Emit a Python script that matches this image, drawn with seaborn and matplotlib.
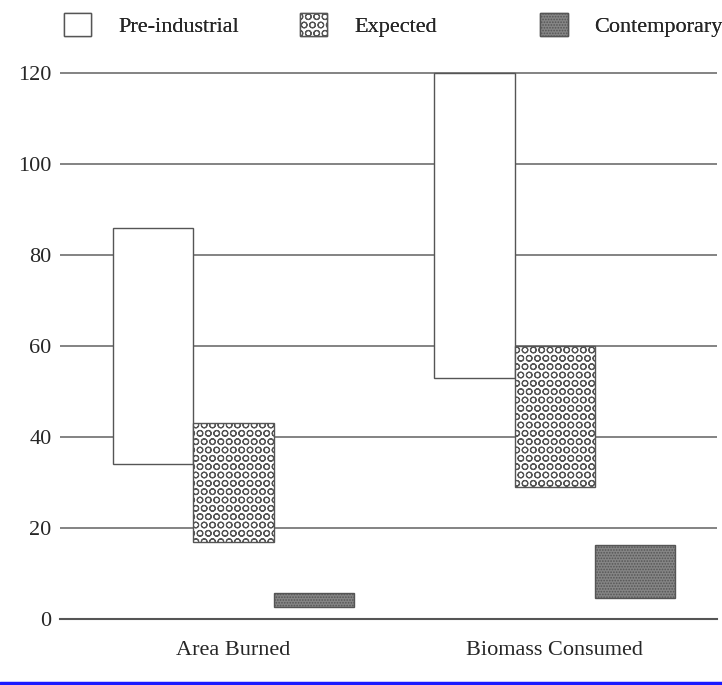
import numpy as np
import pandas as pd
import matplotlib
matplotlib.use("Agg")
import matplotlib.pyplot as plt
import seaborn as sns
from matplotlib.patches import Patch
from matplotlib.lines import Line2D

metrics = ["Area Burned", "Biomass Consumed"]
periods = ["Pre-industrial", "Expected", "Contemporary"]
# low / high end of each range bar
pre_low = [34, 53]
pre_high = [86, 120]
exp_low = [17, 29]
exp_high = [43, 60]
con_low = [2.7, 4.5]
con_high = [5.8, 16.3]

rows = []
for p, lo, hi in zip(periods, [pre_low, exp_low, con_low], [pre_high, exp_high, con_high]):
    for m, a, b in zip(metrics, lo, hi):
        rows.append({"metric": m, "period": p, "low": a, "span": b - a})
df = pd.DataFrame(rows)

sns.set_style("white")
plt.rcParams["font.family"] = ["Liberation Serif", "DejaVu Serif"]
plt.rcParams["hatch.linewidth"] = 0.8

fig = plt.figure(figsize=(7.22, 6.85), dpi=100)
ax = fig.add_axes([0.083, 0.0964, 0.910, 0.8004])

face = {"Pre-industrial": "white", "Expected": "white", "Contemporary": "#858585"}
sns.barplot(data=df, x="metric", y="span", hue="period", hue_order=periods,
            palette=face, width=0.75, gap=0, edgecolor="#555555", linewidth=1,
            legend=False, ax=ax, zorder=3)

# move each bar up to its low value (patches come hue by hue)
hatches = {"Pre-industrial": "", "Expected": "OO", "Contemporary": "......"}
bars = [p for p in ax.patches]
i = 0
for p in periods:
    sub = df[df.period == p]
    for _, r in sub.iterrows():
        b = bars[i]
        b.set_y(r["low"])
        b.set_hatch(hatches[p])
        i += 1

ax.set_ylim(0, 120.5)
ax.set_xlim(-0.54, 1.505)
ax.set_yticks(np.arange(0, 121, 20))
ax.yaxis.grid(True, color="#6e6e6e", linewidth=1.2, zorder=0)
ax.set_axisbelow(True)
for s in ["top", "right", "left"]:
    ax.spines[s].set_visible(False)
ax.spines["bottom"].set_color("#555555")
ax.spines["bottom"].set_linewidth(1.5)
ax.tick_params(axis="y", length=0, pad=6, labelsize=16)
ax.tick_params(axis="x", length=10, width=1, color="#333333", pad=6, labelsize=16)
ax.set_xlabel("")
ax.set_ylabel("")

# one legend entry per slot, placed like the original
legend_x = [0.088, 0.415, 0.748]
for p, lx in zip(periods, legend_x):
    h = Patch(facecolor=face[p], edgecolor="#555555", hatch=hatches[p], label=p)
    leg = fig.legend(handles=[h], loc="upper left", bbox_to_anchor=(lx, 0.981),
                     frameon=False, fontsize=16, handlelength=1.25, handleheight=1.2,
                     handletextpad=1.2, borderpad=0, borderaxespad=0)
    fig.add_artist(leg)

fig.add_artist(Line2D([0, 1], [0.003, 0.003], color="#1a1aff", linewidth=2.5,
                      transform=fig.transFigure))

fig.savefig("out.png", dpi=100)
